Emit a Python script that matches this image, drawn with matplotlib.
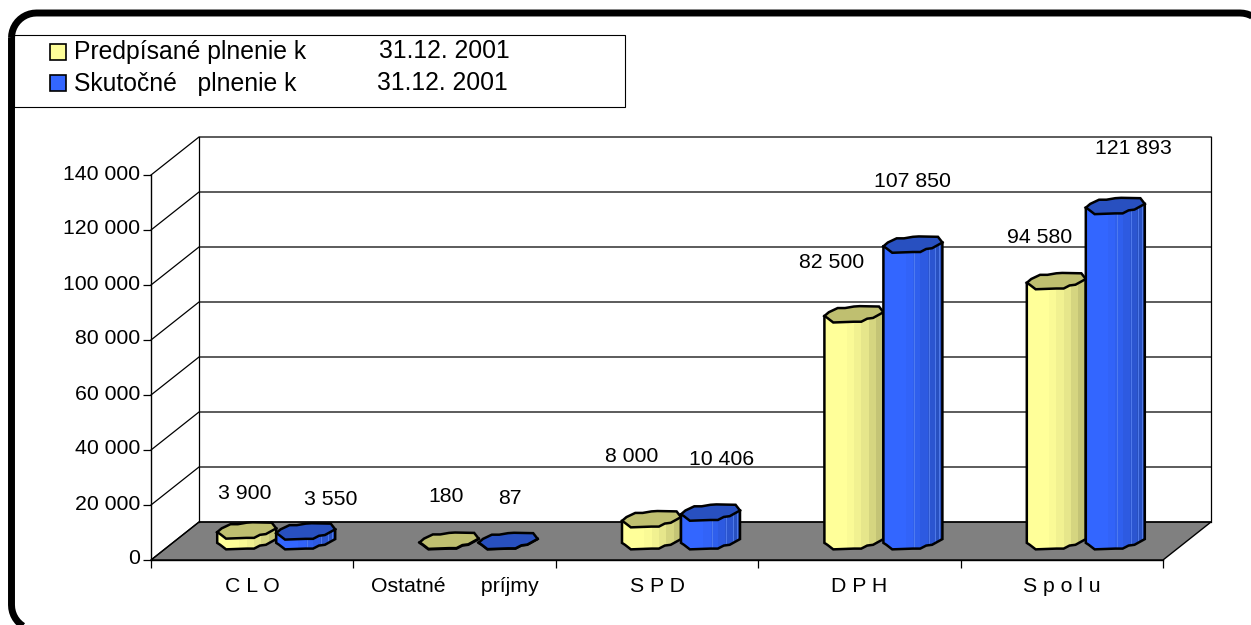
import matplotlib
matplotlib.use('Agg')
import matplotlib.pyplot as plt
import numpy as np
from matplotlib.colors import LinearSegmentedColormap
from matplotlib.patches import Polygon, Rectangle
from matplotlib.transforms import Affine2D, ScaledTranslation
from matplotlib.ticker import FuncFormatter

plt.rcParams['font.family'] = ['Liberation Sans', 'DejaVu Sans']

# data
kategorie = ['C L O', 'Ostatné      príjmy', 'S P D', 'D P H', 'S p o l u']
predpisane = [3900, 180, 8000, 82500, 94580]
skutocne = [3550, 87, 10406, 107850, 121893]
popisy_pred = ['3 900', '180', '8 000', '82 500', '94 580']
popisy_skut = ['3 550', '87', '10 406', '107 850', '121 893']
legenda = ['Predpísané plnenie k', 'Skutočné   plnenie k']
legenda_datum = ['31.12. 2001', '31.12. 2001']
y_ticks = [0, 20000, 40000, 60000, 80000, 100000, 120000, 140000]

W, H = 1251, 625
fig = plt.figure(figsize=(W / 100, H / 100), dpi=100)
# pixel coordinates for the frame and the legend
px = Affine2D().scale(1 / W, -1 / H).translate(0, 1) + fig.transFigure

# plot area = front plane of the 3D box
ax = fig.add_axes([151 / W, 1 - 560 / H, (1163 - 151) / W, 385 / H])
ax.set_xlim(0, 5)
ax.set_ylim(0, 140000)
ax.patch.set_alpha(0)
for s in ['top', 'right']:
    ax.spines[s].set_visible(False)
for s in ['left', 'bottom']:
    ax.spines[s].set_linewidth(1.0)

hloubka_x = 48 / (1012 / 5)
hloubka_y = 38 / 385 * 140000

# floor
ax.add_patch(Polygon([(0, 0), (5, 0), (5 + hloubka_x, hloubka_y), (hloubka_x, hloubka_y)],
                     closed=True, fc='#808080', ec='black', lw=1.0, zorder=1, clip_on=False))
# walls and gridlines
for v in y_ticks:
    ax.plot([0, hloubka_x, 5 + hloubka_x], [v, v + hloubka_y, v + hloubka_y],
            color='black', lw=0.9, clip_on=False, zorder=1.5)
ax.plot([hloubka_x, hloubka_x], [hloubka_y, 140000 + hloubka_y], color='black', lw=0.9, clip_on=False, zorder=1.5)
ax.plot([5 + hloubka_x, 5 + hloubka_x], [hloubka_y, 140000 + hloubka_y], color='black', lw=0.9, clip_on=False, zorder=1.5)

# ticks
ax.set_yticks(y_ticks)
ax.yaxis.set_major_formatter(FuncFormatter(lambda v, p: f'{int(v):,}'.replace(',', ' ')))
ax.tick_params(axis='y', labelsize=15.3, length=6, width=0.9, pad=2, colors='black')
posun = ScaledTranslation(0, 3 / 100, fig.dpi_scale_trans)
for t in ax.get_yticklabels():
    t.set_transform(t.get_transform() + posun)
ax.set_xticks(range(6))
ax.set_xticklabels([])
ax.tick_params(axis='x', which='major', length=6, width=0.9)
ax.set_xticks(np.arange(5) + 0.5, minor=True)
ax.set_xticklabels(kategorie, minor=True, fontsize=15.3)
ax.tick_params(axis='x', which='minor', length=0, pad=12.5)

# wobbly section of Excel's cylinder, in fractions of half width / depth
tvar_horni = [(-1, -0.05), (-0.85, 0.05), (-0.55, 0.16), (-0.3, 0.16), (0, 0.2), (0.2, 0.21), (0.85, 0.2), (1, 0.05)]
tvar_dolni = [(1, 0.05), (0.65, -0.1), (0.45, -0.12), (0.25, -0.2), (0, -0.2), (-0.7, -0.22), (-0.9, -0.1), (-1, -0.05)]
pul_sirky = 29.5 / (1012 / 5)

cmap_zluta = LinearSegmentedColormap.from_list('z', ['#FFFF99', '#FFFF99', '#ECEC8E', '#C4C476'])
cmap_modra = LinearSegmentedColormap.from_list('m', ['#3366FF', '#3366FF', '#2E5CE6', '#2850C0'])


def valec(cx, cy_base, hodnota, cmap, barva_top, z, pruhy=()):
    top = cy_base + hodnota
    def bod(p, y0):
        return (cx + p[0] * pul_sirky, y0 + p[1] * hloubka_y)
    telo = [bod(tvar_horni[0], top), bod(tvar_horni[-1], top)] + [bod(p, cy_base) for p in tvar_dolni]
    patch = Polygon(telo, closed=True, fc='none', ec='black', lw=1.8, zorder=z + 0.2)
    ax.add_patch(patch)
    xe = np.linspace(cx - pul_sirky, cx + pul_sirky, 9)
    ye = [cy_base - hloubka_y, top + hloubka_y]
    m = ax.pcolormesh(xe, ye, np.linspace(0, 1, 8).reshape(1, -1), cmap=cmap, zorder=z, shading='flat')
    m.set_clip_path(patch)
    for f in pruhy:
        l, = ax.plot([cx + f * pul_sirky] * 2, ye, color='#5580F0', lw=0.6, zorder=z + 0.1)
        l.set_clip_path(patch)
    # top face
    horni = [bod(p, top) for p in tvar_horni] + [bod(p, top) for p in tvar_dolni[1:-1]]
    ax.add_patch(Polygon(horni, closed=True, fc=barva_top, ec='black', lw=1.8, zorder=z + 0.3))


posun_pred = [(-2, 37), (-3, 44), (-20, 62), (-22, 52), (-17, 43)]
posun_skut = [(25, 32), (2, 42), (11, 53), (0, 63), (18, 57)]

for i in range(5):
    cx = i + 0.5 + hloubka_x / 2
    cy = hloubka_y / 2
    valec(cx - pul_sirky, cy, predpisane[i], cmap_zluta, '#BFBF70', 3 + i)
    valec(cx + pul_sirky, cy, skutocne[i], cmap_modra, '#2850C0', 3.5 + i, pruhy=(0.05, 0.53, 0.76, 0.9))
    ax.annotate(popisy_pred[i], (cx - pul_sirky, cy + predpisane[i]), xytext=posun_pred[i],
                textcoords='offset pixels', ha='center', va='center', fontsize=15.3, zorder=20)
    ax.annotate(popisy_skut[i], (cx + pul_sirky, cy + skutocne[i]), xytext=posun_skut[i],
                textcoords='offset pixels', ha='center', va='center', fontsize=15.3, zorder=20)

# outer frame, runs off the picture right and bottom
r = 25
x0, y0, x1, y1 = 11.5, 13, 1265, 630
uhel = np.linspace(0, np.pi / 2, 12)
ram = []
ram += [(x0 + r - r * np.cos(a), y0 + r - r * np.sin(a)) for a in uhel]
ram += [(x1 - r + r * np.sin(a), y0 + r - r * np.cos(a)) for a in uhel]
ram += [(x1 - r + r * np.cos(a), y1 - r + r * np.sin(a)) for a in uhel]
ram += [(x0 + r - r * np.sin(a), y1 - r + r * np.cos(a)) for a in uhel]
fig.add_artist(Polygon(ram, closed=True, fc='none', ec='black', lw=5, transform=px, zorder=8))

# legend box
fig.add_artist(Rectangle((14, 35), 611, 72, fc='white', ec='black', lw=0.8, transform=px, zorder=5))
fig.add_artist(Rectangle((50, 44), 16, 16, fc='#FFFF99', ec='black', lw=1.2, transform=px, zorder=6))
fig.add_artist(Rectangle((50, 75), 16, 16, fc='#3366FF', ec='black', lw=1.2, transform=px, zorder=6))
fig.text(74, 51.5, legenda[0], transform=px, fontsize=17.8, va='center', ha='left', zorder=7)
fig.text(74, 83.5, legenda[1], transform=px, fontsize=17.8, va='center', ha='left', zorder=7)
fig.text(379, 51.5, legenda_datum[0], transform=px, fontsize=17.8, va='center', ha='left', zorder=7)
fig.text(377, 83.5, legenda_datum[1], transform=px, fontsize=17.8, va='center', ha='left', zorder=7)

fig.savefig('out.png', dpi=100)
